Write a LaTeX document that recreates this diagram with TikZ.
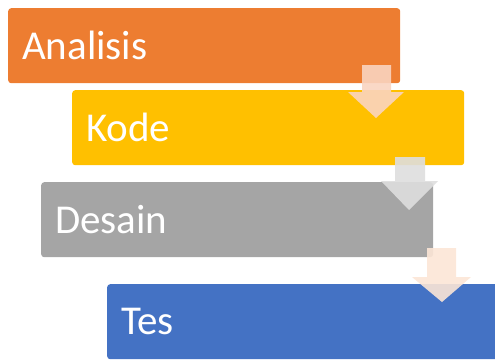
\documentclass[tikz,border=0pt]{standalone}
\usepackage{fontspec}
\setmainfont{Carlito}
\definecolor{cOrange}{HTML}{ED7D31}
\definecolor{cGold}{HTML}{FFC000}
\definecolor{cGray}{HTML}{A5A5A5}
\definecolor{cBlue}{HTML}{4472C4}
\definecolor{aPeach}{HTML}{FAD4C0}
\definecolor{aGray}{HTML}{DEDEDE}
\definecolor{aCream}{HTML}{FCE6D6}
\tikzset{
  stagebox/.style={anchor=north west, rounded corners=3pt, minimum width=392pt,
    minimum height=75pt, text width=364pt, align=left, inner xsep=14pt, inner ysep=0pt,
    text=white, font=\fontsize{41}{49}\selectfont},
  blockarrow/.style={opacity=0.9}
}
\begin{document}
\begin{tikzpicture}[x=1pt,y=-1pt]
\useasboundingbox (0,0) rectangle (495,360);
\node[stagebox, fill=cOrange] (analisis) at (8,8) {Analisis};
\node[stagebox, fill=cGold] (kode) at (72,90) {Kode};
\node[stagebox, fill=cGray] (desain) at (41,182) {Desain};
\node[stagebox, fill=cBlue] (tes) at (107,284) {Tes};
% arrows
\fill[blockarrow, aPeach] (362,65) -- (391,65) -- (391,92) -- (404,92) -- (376,118) -- (348,92) -- (362,92) -- cycle;
\fill[blockarrow, aGray] (395,157) -- (425,157) -- (425,181) -- (438,181) -- (409,210) -- (381,181) -- (395,181) -- cycle;
\fill[blockarrow, aCream] (427,248) -- (456,248) -- (456,277) -- (471,277) -- (442,302) -- (412,277) -- (427,277) -- cycle;
\end{tikzpicture}
\end{document}
